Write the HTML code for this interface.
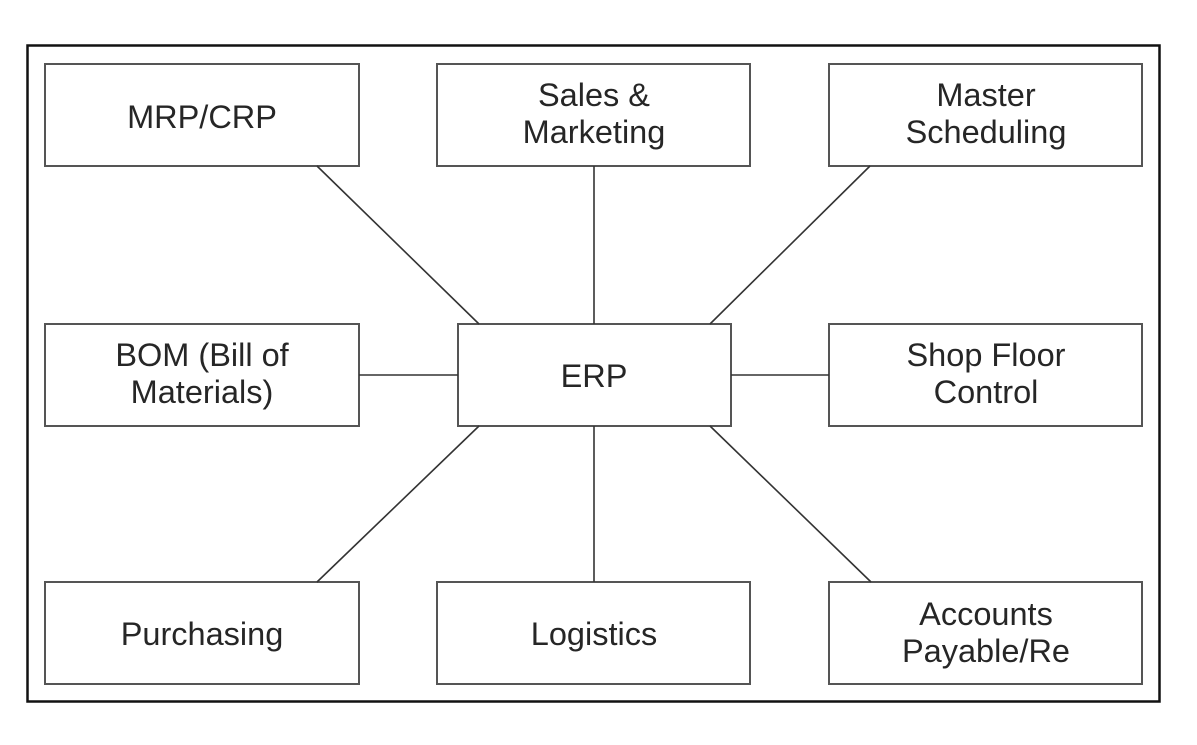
<!DOCTYPE html>
<html><head><meta charset="utf-8"><style>
html,body{margin:0;padding:0;background:#fff;}
svg{display:block;}
text{font-family:"Liberation Sans",Arial,sans-serif;font-size:32.5px;fill:#262626;text-anchor:middle;}
</style></head><body>
<svg width="1197" height="745" viewBox="0 0 1197 745">
<rect x="27.5" y="45.5" width="1132" height="656" fill="#fff" stroke="#111" stroke-width="2.5"/>
<g fill="#fff" stroke="#555" stroke-width="2">
<rect x="45" y="64" width="314" height="102"/>
<rect x="437" y="64" width="313" height="102"/>
<rect x="829" y="64" width="313" height="102"/>
<rect x="45" y="324" width="314" height="102"/>
<rect x="458" y="324" width="273" height="102"/>
<rect x="829" y="324" width="313" height="102"/>
<rect x="45" y="582" width="314" height="102"/>
<rect x="437" y="582" width="313" height="102"/>
<rect x="829" y="582" width="313" height="102"/>
</g>
<g stroke="#333" stroke-width="1.6">
<line x1="317" y1="166" x2="479" y2="324"/>
<line x1="594" y1="166" x2="594" y2="324"/>
<line x1="870" y1="166" x2="710" y2="324"/>
<line x1="359" y1="375" x2="458" y2="375"/>
<line x1="731" y1="375" x2="829" y2="375"/>
<line x1="317" y1="582" x2="479" y2="426"/>
<line x1="594" y1="426" x2="594" y2="582"/>
<line x1="871" y1="582" x2="710" y2="426"/>
</g>
<text x="202" y="128">MRP/CRP</text>
<text x="594" y="106">Sales &amp;</text>
<text x="594" y="143">Marketing</text>
<text x="986" y="106">Master</text>
<text x="986" y="143">Scheduling</text>
<text x="202" y="366">BOM (Bill of</text>
<text x="202" y="403">Materials)</text>
<text x="594" y="387">ERP</text>
<text x="986" y="366">Shop Floor</text>
<text x="986" y="403">Control</text>
<text x="202" y="645">Purchasing</text>
<text x="594" y="645">Logistics</text>
<text x="986" y="625">Accounts</text>
<text x="986" y="662">Payable/Re</text>
</svg>
</body></html>
